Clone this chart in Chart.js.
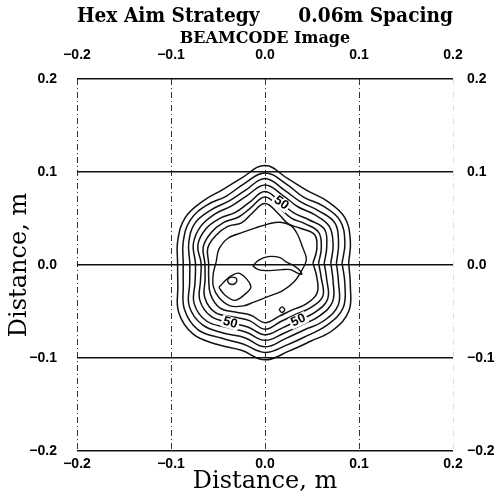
<!DOCTYPE html>
<html>
<head>
<meta charset="utf-8">
<script src="https://cdn.jsdelivr.net/npm/chart.js@4.4.0/dist/chart.umd.min.js"></script>
<style>
  html, body { margin: 0; padding: 0; background: #fff; }
</style>
</head>
<body>
<canvas id="chart" width="495" height="496"></canvas>
<script>
// axis ticks (m)
const axisTicks = [-0.2, -0.1, 0.0, 0.1, 0.2];

// contour rings read around the beam centre, radius (m) every 15 deg
const ringCentre = [0.0, 0.002];
const angleDeg = [0, 15, 30, 45, 60, 75, 90, 105, 120, 135, 150, 165,
  180, 195, 210, 225, 240, 255, 270, 285, 300, 315, 330, 345];
const ring10 = [.089, .094, .098, .094, .090, .094, .105, .095, .091, .094, .098, .096,
  .093, .096, .106, .108, .101, .097, .104, .098, .097, .102, .103, .094];
const ring20 = [.082, .088, .092, .087, .082, .088, .097, .088, .083, .088, .092, .090,
  .087, .090, .099, .101, .093, .090, .096, .091, .090, .094, .096, .088];
const ring30 = [.076, .081, .086, .080, .076, .081, .091, .081, .077, .081, .086, .084,
  .080, .083, .093, .094, .087, .083, .090, .084, .083, .088, .090, .081];
const ring40 = [.070, .075, .079, .074, .070, .075, .084, .075, .071, .075, .079, .079,
  .074, .077, .087, .088, .080, .077, .083, .078, .077, .081, .083, .075];
const ring50 = [.063, .068, .073, .066, .062, .067, .077, .067, .063, .068, .073, .074,
  .068, .071, .080, .081, .074, .071, .077, .072, .071, .075, .077, .068];
const ring60 = [.057, .062, .066, .060, .056, .061, .071, .061, .057, .062, .066, .068,
  .064, .066, .074, .075, .067, .064, .071, .065, .064, .068, .071, .062];
const ring70 = [.051, .057, .061, .053, .049, .055, .064, .055, .050, .056, .060, .063,
  .060, .062, .067, .068, .061, .058, .064, .059, .058, .062, .064, .057];

// inner contours, traced as x / y (m)
const innerX = [-0.052, -0.049, -0.039, -0.024, -0.010, 0.003, 0.016, 0.028, 0.035, 0.040,
  0.044, 0.039, 0.031, 0.018, 0.003, -0.012, -0.023, -0.037, -0.049, -0.055, -0.055, -0.052];
const innerY = [0.003, 0.017, 0.029, 0.035, 0.040, 0.044, 0.046, 0.042, 0.032, 0.019,
  0.006, -0.006, -0.018, -0.028, -0.034, -0.040, -0.044, -0.044, -0.035, -0.023, -0.009, 0.003];
const diamondX = [-0.049, -0.038, -0.027, -0.015, -0.022, -0.032, -0.043, -0.049];
const diamondY = [-0.024, -0.013, -0.009, -0.023, -0.032, -0.038, -0.032, -0.024];
const loopX = [-0.040, -0.038, -0.035, -0.031, -0.030, -0.032, -0.035, -0.038, -0.040];
const loopY = [-0.017, -0.014, -0.013, -0.014, -0.017, -0.020, -0.021, -0.020, -0.017];
const tailX = [-0.013, -0.007, 0.003, 0.016, 0.023, 0.031, 0.037, 0.039, 0.035, 0.027,
  0.018, 0.005, -0.007, -0.013];
const tailY = [-0.001, 0.005, 0.009, 0.008, 0.003, -0.001, -0.006, -0.010, -0.009, -0.005,
  -0.005, -0.006, -0.005, -0.001];
const spotX = [0.015, 0.018, 0.021, 0.018, 0.015];
const spotY = [-0.048, -0.045, -0.048, -0.051, -0.048];

// where the "50" labels sit on ring50 (index into angleDeg)
const label50At = [5, 16, 20];

function ringPoints(radii) {
  const pts = radii.map((r, i) => {
    const a = angleDeg[i] * Math.PI / 180;
    return { x: ringCentre[0] + r * Math.cos(a), y: ringCentre[1] + r * Math.sin(a) };
  });
  pts.push(pts[0]);
  return pts;
}

function tracePoints(xs, ys) {
  return xs.map((x, i) => ({ x, y: ys[i] }));
}

const LINE = "#111";
const rings = [ring10, ring20, ring30, ring40, ring50, ring60, ring70];
const datasets = rings.map((r, i) => ({
  label: `${(i + 1) * 10}`,
  data: ringPoints(r),
  showLine: true,
  borderColor: LINE,
  borderWidth: 1.5,
  pointRadius: 0,
  tension: 0.4,
}));
[[innerX, innerY], [diamondX, diamondY], [loopX, loopY], [tailX, tailY], [spotX, spotY]]
  .forEach(([xs, ys], i) => {
    datasets.push({
      label: `inner${i}`,
      data: tracePoints(xs, ys),
      showLine: true,
      borderColor: LINE,
      borderWidth: 1.4,
      pointRadius: 0,
      tension: 0.35,
    });
  });

const fmt = (v) => {
  const s = Math.abs(v) < 1e-9 ? "0.0" : v.toFixed(1);
  return s.replace("-", "\u2212");
};

const tickFont = { family: "Liberation Sans", weight: "bold", size: 14 };
const serif = "DejaVu Serif";

// "50" labels on the 50 contour
const contourLabels = {
  id: "contourLabels",
  afterDatasetsDraw(chart) {
    const { ctx, scales } = chart;
    const pts = chart.data.datasets[4].data;
    ctx.save();
    ctx.font = "bold 13px 'Liberation Sans'";
    ctx.textAlign = "center";
    ctx.textBaseline = "middle";
    for (const idx of label50At) {
      const p = pts[idx];
      const prev = pts[(idx + pts.length - 2) % (pts.length - 1)];
      const next = pts[idx + 1];
      const px = scales.x.getPixelForValue(p.x);
      const py = scales.y.getPixelForValue(p.y);
      let ang = Math.atan2(
        scales.y.getPixelForValue(next.y) - scales.y.getPixelForValue(prev.y),
        scales.x.getPixelForValue(next.x) - scales.x.getPixelForValue(prev.x)
      );
      if (ang > Math.PI / 2) ang -= Math.PI;
      if (ang < -Math.PI / 2) ang += Math.PI;
      ctx.save();
      ctx.translate(px, py);
      ctx.rotate(ang);
      ctx.fillStyle = "#fff";
      ctx.fillRect(-9, -6, 18, 12);
      ctx.fillStyle = "#000";
      ctx.fillText("50", 0, 0);
      ctx.restore();
    }
    ctx.restore();
  },
};

new Chart(document.getElementById("chart"), {
  type: "scatter",
  data: { datasets },
  options: {
    responsive: false,
    animation: false,
    events: [],
    layout: { padding: 0 },
    plugins: {
      legend: { display: false },
      tooltip: { enabled: false },
      title: {
        display: true,
        fullSize: false,
        text: "Hex Aim Strategy      0.06m Spacing",
        color: "#000",
        font: { family: serif, weight: "bold", size: 20, lineHeight: "23px" },
        padding: { top: 5, bottom: 0 },
      },
    },
    scales: {
      x: {
        type: "linear",
        position: "bottom",
        min: -0.2,
        max: 0.2,
        afterBuildTicks: (s) => { s.ticks = axisTicks.map((v) => ({ value: v })); },
        afterFit: (s) => { s.height = 45; },
        ticks: { color: "#000", font: tickFont, padding: 5, callback: fmt },
        grid: {
          drawTicks: false,
          lineWidth: 1,
          color: (c) => (c.tick.value > 0.15 ? "rgba(0,0,0,0.12)" : "#333"),
        },
        border: { display: false, dash: [6, 3, 1, 3] },
        title: {
          display: true,
          text: "Distance, m",
          color: "#000",
          font: { family: serif, size: 24 },
          padding: { top: 0, bottom: 0 },
        },
      },
      x2: {
        type: "linear",
        position: "top",
        min: -0.2,
        max: 0.2,
        afterBuildTicks: (s) => { s.ticks = axisTicks.map((v) => ({ value: v })); },
        afterFit: (s) => { s.height = 51; },
        ticks: { color: "#000", font: tickFont, padding: 7, callback: fmt },
        grid: { display: false },
        border: { display: false },
        title: {
          display: true,
          text: "BEAMCODE Image",
          color: "#000",
          font: { family: serif, weight: "bold", size: 16 },
          padding: { top: 1, bottom: 0 },
        },
      },
      y: {
        type: "linear",
        position: "left",
        min: -0.2,
        max: 0.2,
        afterBuildTicks: (s) => { s.ticks = axisTicks.map((v) => ({ value: v })); },
        afterFit: (s) => { s.width = 77; },
        ticks: { color: "#000", font: tickFont, padding: 20, callback: fmt },
        grid: { drawTicks: false, lineWidth: 1.5, color: "#111" },
        border: { display: false },
        title: {
          display: true,
          text: "Distance, m",
          color: "#000",
          font: { family: serif, size: 24 },
          padding: { top: 5, bottom: 0 },
        },
      },
      y2: {
        type: "linear",
        position: "right",
        min: -0.2,
        max: 0.2,
        afterBuildTicks: (s) => { s.ticks = axisTicks.map((v) => ({ value: v })); },
        afterFit: (s) => { s.width = 42; },
        ticks: { color: "#000", font: tickFont, padding: 6, callback: fmt },
        grid: { display: false },
        border: { display: false },
      },
    },
  },
  plugins: [contourLabels],
});
</script>
</body>
</html>
